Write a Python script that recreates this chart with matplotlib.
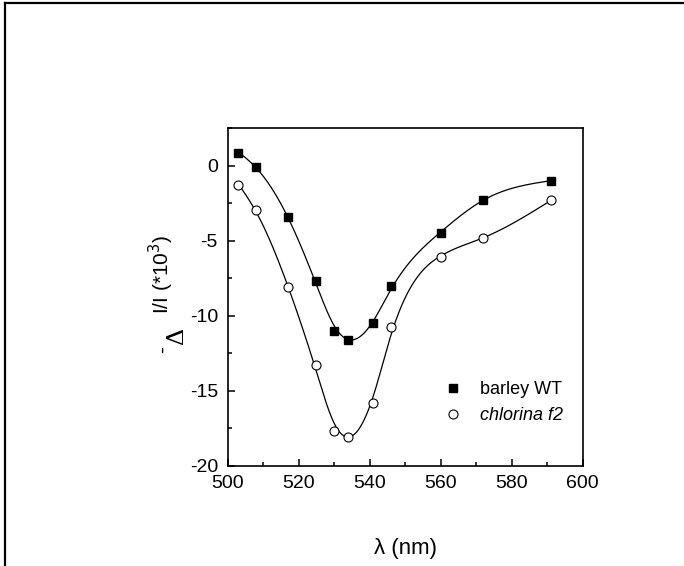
import numpy as np
import matplotlib
matplotlib.use("Agg")
import matplotlib.pyplot as plt
from matplotlib.lines import Line2D
from matplotlib.ticker import MultipleLocator

plt.rcParams['font.family'] = ['Liberation Sans', 'DejaVu Sans']
plt.rcParams['axes.unicode_minus'] = False

# ---- data ----
wavelength = [503, 508, 517, 525, 530, 534, 541, 546, 560, 572, 591]
barley_wt = [0.83, -0.07, -3.44, -7.69, -11.0, -11.64, -10.5, -8.0, -4.47, -2.29, -1.02]
chlorina_f2 = [-1.33, -2.95, -8.1, -13.3, -17.67, -18.1, -15.8, -10.73, -6.07, -4.84, -2.33]
series_labels = ['barley WT', 'chlorina f2']
x_label = 'λ (nm)'


def smoothing_spline(x, y, lam, xs):
    """Reinsch cubic smoothing spline evaluated at xs."""
    x = np.asarray(x, float)
    y = np.asarray(y, float)
    n = len(x)
    h = np.diff(x)
    Q = np.zeros((n, n - 2))
    R = np.zeros((n - 2, n - 2))
    for j in range(1, n - 1):
        c = j - 1
        Q[j - 1, c] = 1 / h[j - 1]
        Q[j, c] = -1 / h[j - 1] - 1 / h[j]
        Q[j + 1, c] = 1 / h[j]
        R[c, c] = (h[j - 1] + h[j]) / 3
        if c + 1 < n - 2:
            R[c, c + 1] = R[c + 1, c] = h[j] / 6
    gamma = np.linalg.solve(R + lam * Q.T @ Q, Q.T @ y)
    f = y - lam * Q @ gamma
    M = np.concatenate([[0.0], gamma, [0.0]])
    idx = np.clip(np.searchsorted(x, xs) - 1, 0, n - 2)
    x0, x1 = x[idx], x[idx + 1]
    hh = x1 - x0
    return (M[idx] * (x1 - xs) ** 3 / (6 * hh) + M[idx + 1] * (xs - x0) ** 3 / (6 * hh)
            + (f[idx] - M[idx] * hh ** 2 / 6) * (x1 - xs) / hh
            + (f[idx + 1] - M[idx + 1] * hh ** 2 / 6) * (xs - x0) / hh)


W, H = 684, 566
fig = plt.figure(figsize=(W / 100, H / 100), dpi=100)
ax = fig.add_axes([227.7 / W, 1 - 465.7 / H, 355 / W, 337.7 / H])

xs = np.linspace(min(wavelength), max(wavelength), 600)
ax.plot(xs, smoothing_spline(wavelength, barley_wt, 15.0, xs), color='black', lw=0.9)
ax.plot(xs, smoothing_spline(wavelength, chlorina_f2, 15.0, xs), color='black', lw=0.9)
ax.plot(wavelength, barley_wt, ls='none', marker='s', ms=6, mfc='black', mec='black',
        label=series_labels[0])
ax.plot(wavelength, chlorina_f2, ls='none', marker='o', ms=6.5, mfc='white', mec='black',
        mew=0.8, label=series_labels[1])

ax.set_xlim(500, 600)
ax.set_ylim(-20, 2.5)
ax.xaxis.set_major_locator(MultipleLocator(20))
ax.xaxis.set_minor_locator(MultipleLocator(10))
ax.yaxis.set_major_locator(MultipleLocator(5))
ax.yaxis.set_minor_locator(MultipleLocator(2.5))
ax.tick_params(which='both', direction='in', top=False, right=False, labelsize=14, width=1.1)
ax.tick_params(which='major', length=5, pad=7)
ax.tick_params(which='minor', length=3)
for s in ax.spines.values():
    s.set_linewidth(1.2)

ax.set_xlabel(x_label, fontsize=16, labelpad=33)

# y label pieces: "-", lowered "Δ", "I/I (*10³)"
fig.text(162 / W, 1 - 350 / H, '-', rotation=90, fontsize=15, ha='center', va='center')
fig.text(177 / W, 1 - 335 / H, 'Δ', rotation=90, fontsize=19, ha='center', va='center',
         family=['Liberation Serif', 'DejaVu Serif'])
fig.text(161 / W, 1 - 314 / H, r'I/I (*10$^{3}$)', rotation=90, fontsize=15,
         ha='center', va='bottom')

leg = ax.legend(loc='center left', bbox_to_anchor=(0.609, 0.186), frameon=False,
                fontsize=13, handlelength=1.0, handletextpad=1.0, borderpad=0,
                borderaxespad=0, labelspacing=0.5, numpoints=1)
leg.get_texts()[1].set_style('italic')

# outer frame (top and left edges)
fig.add_artist(Line2D([5 / W, 1], [1 - 3 / H, 1 - 3 / H], transform=fig.transFigure,
                      color='black', lw=1.6))
fig.add_artist(Line2D([5 / W, 5 / W], [0, 1 - 3 / H], transform=fig.transFigure,
                      color='black', lw=1.6))

fig.savefig('out.png', dpi=100)
